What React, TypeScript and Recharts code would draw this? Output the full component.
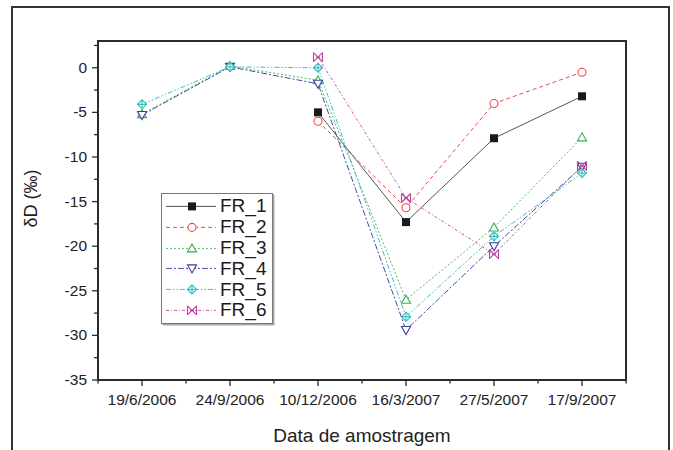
import React from 'react';
import {
  Line,
  LineChart,
  ReferenceArea,
  XAxis,
  YAxis,
} from 'recharts';

const dates = ['19/6/2006', '24/9/2006', '10/12/2006', '16/3/2007', '27/5/2007', '17/9/2007'];

const fr1 = [null, null, -5.0, -17.3, -7.9, -3.2];
const fr2 = [null, null, -6.0, -15.7, -4.0, -0.5];
const fr3 = [-5.2, 0.2, -1.4, -26.0, -17.9, -7.8];
const fr4 = [-5.3, 0.1, -1.8, -29.4, -20.0, -11.1];
const fr5 = [-4.1, 0.1, 0.0, -27.9, -18.9, -11.8];
const fr6 = [null, null, 1.2, -14.6, -20.9, -11.0];

const yTicks = [-35, -32.5, -30, -27.5, -25, -22.5, -20, -17.5, -15, -12.5, -10, -7.5, -5, -2.5, 0, 2.5];

const FONT = '"Liberation Sans", Arial, sans-serif';
const INK = '#2b2b2b';

type Shape = 'square' | 'circle' | 'triUp' | 'triDown' | 'diamond' | 'bowtie';

const series: { key: string; color: string; lineColor: string; dash?: string; shape: Shape }[] = [
  { key: 'FR_1', color: '#1a1a1a', lineColor: '#555', shape: 'square' },
  { key: 'FR_2', color: '#f04848', lineColor: '#f04848', dash: '4 3', shape: 'circle' },
  { key: 'FR_3', color: '#3aae52', lineColor: '#55b868', dash: '2 2', shape: 'triUp' },
  { key: 'FR_4', color: '#3c3c9c', lineColor: '#4a4aa6', dash: '6 2 2 2', shape: 'triDown' },
  { key: 'FR_5', color: '#2fbcbc', lineColor: '#3cc0c0', dash: '5 2 1.5 2 1.5 2', shape: 'diamond' },
  { key: 'FR_6', color: '#c03c9c', lineColor: '#c858a8', dash: '3 2 1 2', shape: 'bowtie' },
];

const data = dates.map((d, i) => ({
  idx: i + 1,
  date: d,
  FR_1: fr1[i],
  FR_2: fr2[i],
  FR_3: fr3[i],
  FR_4: fr4[i],
  FR_5: fr5[i],
  FR_6: fr6[i],
}));

const xTicks = [...dates.flatMap((_, i) => [i + 0.5, i + 1]), dates.length + 0.5];

function Marker({ shape, color, cx, cy }: { shape: Shape; color: string; cx: number; cy: number }) {
  const r = 4.5;
  switch (shape) {
    case 'square':
      return <rect x={cx - 4} y={cy - 4} width={8} height={8} fill={color} />;
    case 'circle':
      return <circle cx={cx} cy={cy} r={4} fill="white" stroke={color} strokeWidth={1.1} />;
    case 'triUp':
      return (
        <polygon
          points={`${cx},${cy - r} ${cx + r},${cy + r - 1} ${cx - r},${cy + r - 1}`}
          fill="white"
          stroke={color}
          strokeWidth={1.1}
        />
      );
    case 'triDown':
      return (
        <polygon
          points={`${cx},${cy + r} ${cx + r},${cy - r + 1} ${cx - r},${cy - r + 1}`}
          fill="white"
          stroke={color}
          strokeWidth={1.1}
        />
      );
    case 'diamond':
      return (
        <g stroke={color} strokeWidth={1.1} fill="white">
          <polygon points={`${cx},${cy - r} ${cx + r},${cy} ${cx},${cy + r} ${cx - r},${cy}`} />
          <line x1={cx - r} x2={cx + r} y1={cy} y2={cy} />
          <line x1={cx} x2={cx} y1={cy - r} y2={cy + r} />
        </g>
      );
    default:
      return (
        <g stroke={color} strokeWidth={1.1} fill="none">
          <line x1={cx - r} x2={cx + r} y1={cy - r} y2={cy + r} />
          <line x1={cx - r} x2={cx + r} y1={cy + r} y2={cy - r} />
          <line x1={cx - r} x2={cx - r} y1={cy - r} y2={cy + r} />
          <line x1={cx + r} x2={cx + r} y1={cy - r} y2={cy + r} />
          <line x1={cx - 2} x2={cx + 2} y1={cy} y2={cy} />
        </g>
      );
  }
}

const XTick = ({ x, y, payload }: any) => {
  const v = payload.value;
  const major = Number.isInteger(v);
  return (
    <g>
      <line x1={x} x2={x} y1={y} y2={y + (major ? 6 : 3.5)} stroke={INK} strokeWidth={1.3} />
      {major && (
        <text x={x} y={y + 25} textAnchor="middle" fontSize={15.5} fill="#222" fontFamily={FONT}>
          {dates[v - 1]}
        </text>
      )}
    </g>
  );
};

const YTick = ({ x, y, payload }: any) => {
  const v = payload.value;
  const major = v % 5 === 0;
  return (
    <g>
      <line x1={x - (major ? 6 : 4)} x2={x} y1={y} y2={y} stroke={INK} strokeWidth={1.3} />
      {major && (
        <text x={x - 11} y={y + 5} textAnchor="end" fontSize={15.5} fill="#222" fontFamily={FONT}>
          {v}
        </text>
      )}
    </g>
  );
};

const YTitle = ({ viewBox }: any) => {
  const cx = viewBox.x + 37;
  const cy = viewBox.y + viewBox.height / 2 - 12;
  return (
    <text
      x={cx}
      y={cy}
      transform={`rotate(-90, ${cx}, ${cy})`}
      textAnchor="middle"
      fontSize={18}
      fill="#222"
      fontFamily={FONT}
    >
      δD (‰)
    </text>
  );
};

// legend drawn as an overlay so it does not eat plot space
const LegendBox = () => (
  <div
    style={{
      position: 'absolute',
      left: 161,
      top: 193,
      border: '1.5px solid #777',
      boxShadow: '1.5px 1.5px 0 #aaa',
      background: 'white',
      padding: '2px 0',
      width: 110,
      fontFamily: FONT,
    }}
  >
    {series.map((s) => (
      <div key={s.key} style={{ display: 'flex', alignItems: 'center', height: 20.8 }}>
        <svg width={58} height={20.8} style={{ display: 'block' }}>
          <line x1={4} x2={54} y1={10.4} y2={10.4} stroke={s.lineColor} strokeDasharray={s.dash} strokeWidth={1} />
          <Marker shape={s.shape} color={s.color} cx={30} cy={10.4} />
        </svg>
        <span style={{ fontSize: 19, color: '#1a1a1a', lineHeight: '20px' }}>{s.key}</span>
      </div>
    ))}
  </div>
);

export default function App() {
  return (
    <div
      style={{
        position: 'absolute',
        left: 0,
        top: 0,
        width: 673,
        height: 450,
        background: 'white',
        overflow: 'hidden',
        fontFamily: FONT,
      }}
    >
      <div
        style={{
          position: 'absolute',
          left: 11,
          top: 6,
          width: 655,
          height: 470,
          border: '2.5px solid #333',
        }}
      />
      <LineChart
        width={673}
        height={450}
        data={data}
        margin={{ top: 41, right: 47, left: 0, bottom: 0 }}
        style={{ position: 'absolute', left: 0, top: 0 }}
      >
        <XAxis
          dataKey="idx"
          type="number"
          domain={[0.5, 6.5]}
          ticks={xTicks}
          interval={0}
          allowDataOverflow
          height={70}
          tickSize={0}
          tickMargin={0}
          tickLine={false}
          tick={<XTick />}
          axisLine={false}
          label={{ value: 'Data de amostragem', position: 'insideBottom', offset: 8, fontSize: 19, fill: '#222' }}
        />
        <YAxis
          type="number"
          domain={[-35, 3]}
          ticks={yTicks}
          interval={0}
          allowDataOverflow
          width={98}
          tickSize={0}
          tickMargin={0}
          tickLine={false}
          tick={<YTick />}
          axisLine={false}
          label={{ content: <YTitle /> }}
        />
        <ReferenceArea x1={0.5} x2={6.5} y1={-35} y2={3} fill="none" stroke={INK} strokeWidth={2} strokeOpacity={1} />
        {series.map((s) => (
          <Line
            key={s.key}
            dataKey={s.key}
            stroke={s.lineColor}
            strokeWidth={1}
            strokeDasharray={s.dash}
            isAnimationActive={false}
            legendType="none"
            dot={(p: any) =>
              p.value == null || p.cy == null ? (
                <g key={`${s.key}-${p.index}`} />
              ) : (
                <Marker key={`${s.key}-${p.index}`} shape={s.shape} color={s.color} cx={p.cx} cy={p.cy} />
              )
            }
          />
        ))}
      </LineChart>
      <LegendBox />
    </div>
  );
}
